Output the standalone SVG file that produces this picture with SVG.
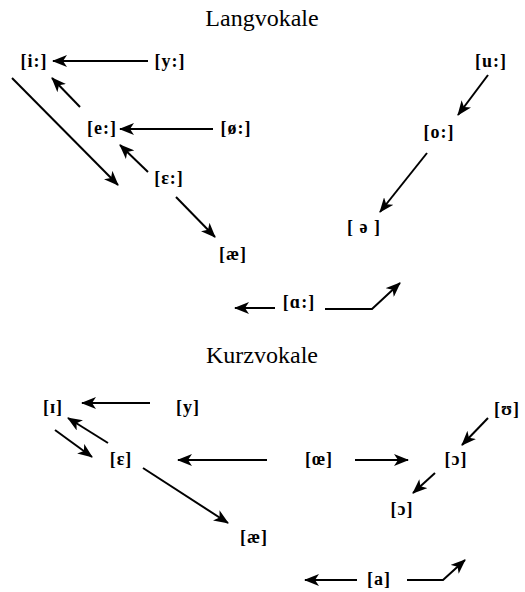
<svg xmlns="http://www.w3.org/2000/svg" width="525" height="592" viewBox="0 0 525 592">
<defs>
<marker id="ah" markerUnits="userSpaceOnUse" markerWidth="15" markerHeight="12" viewBox="0 0 15 12" refX="14" refY="6" orient="auto">
<path d="M0,0 L15,6 L0,12 L4,6 z" fill="#000"/>
</marker>
<style>
.title{font-family:"Liberation Serif","Times New Roman",serif;font-size:24px;fill:#000;text-anchor:middle}
.lbl{font-family:"Liberation Serif","Times New Roman",serif;font-size:18px;font-weight:bold;letter-spacing:1px;fill:#000;text-anchor:middle}
.c{fill:none;stroke:#000;stroke-width:2}
.a{marker-end:url(#ah)}
</style>
</defs>
<rect width="525" height="592" fill="#fff"/>
<text class="title" x="262" y="26">Langvokale</text>
<text class="title" x="262" y="363">Kurzvokale</text>
<g id="long-i"><text class="lbl" x="34" y="67">[i:]</text></g>
<g id="long-y"><text class="lbl" x="170" y="67">[y:]</text></g>
<g id="long-e"><text class="lbl" x="102" y="134">[e:]</text></g>
<g id="long-oe"><text class="lbl" x="236" y="134">[ø:]</text></g>
<g id="long-eps"><text class="lbl" x="169" y="184">[ɛ:]</text></g>
<g id="long-ae"><text class="lbl" x="233" y="260">[æ]</text></g>
<g id="long-u"><text class="lbl" x="491" y="67">[u:]</text></g>
<g id="long-o"><text class="lbl" x="439" y="138">[o:]</text></g>
<g id="long-schwa"><text class="lbl" x="364" y="233">[ ə ]</text></g>
<g id="long-a"><text class="lbl" x="299" y="308">[ɑ:]</text></g>
<g id="short-i"><text class="lbl" x="53" y="413">[ɪ]</text></g>
<g id="short-y"><text class="lbl" x="188" y="413">[y]</text></g>
<g id="short-eps"><text class="lbl" x="121" y="465">[ɛ]</text></g>
<g id="short-oe"><text class="lbl" x="319" y="465">[œ]</text></g>
<g id="short-o"><text class="lbl" x="456" y="465">[ɔ]</text></g>
<g id="short-u"><text class="lbl" x="507" y="415">[ʊ]</text></g>
<g id="short-o2"><text class="lbl" x="402" y="515">[ɔ]</text></g>
<g id="short-ae"><text class="lbl" x="254" y="543">[æ]</text></g>
<g id="short-a"><text class="lbl" x="379" y="585">[a]</text></g>
<g id="connectors">
<line class="c a" x1="148" y1="61" x2="53" y2="61"/>
<line class="c a" x1="80" y1="107" x2="52" y2="78"/>
<line class="c a" x1="12" y1="78" x2="118" y2="185"/>
<line class="c a" x1="213" y1="129" x2="120" y2="129"/>
<line class="c a" x1="148" y1="172" x2="120" y2="145"/>
<line class="c a" x1="176" y1="197" x2="215" y2="237"/>
<line class="c a" x1="488" y1="75" x2="458" y2="115"/>
<line class="c a" x1="427" y1="153" x2="380" y2="212"/>
<line class="c a" x1="275" y1="308" x2="235" y2="308"/>
<polyline class="c a" points="325,309 372,309 400,283"/>
<line class="c a" x1="150" y1="403" x2="82" y2="403"/>
<line class="c a" x1="55" y1="430" x2="92" y2="457"/>
<line class="c a" x1="108" y1="443" x2="68" y2="418"/>
<line class="c a" x1="267" y1="460" x2="178" y2="460"/>
<line class="c a" x1="355" y1="460" x2="408" y2="460"/>
<line class="c a" x1="488" y1="418" x2="462" y2="445"/>
<line class="c a" x1="435" y1="473" x2="413" y2="493"/>
<line class="c a" x1="143" y1="468" x2="228" y2="523"/>
<line class="c a" x1="357" y1="580" x2="305" y2="580"/>
<polyline class="c a" points="407,580 443,580 465,560"/>
</g>
</svg>
